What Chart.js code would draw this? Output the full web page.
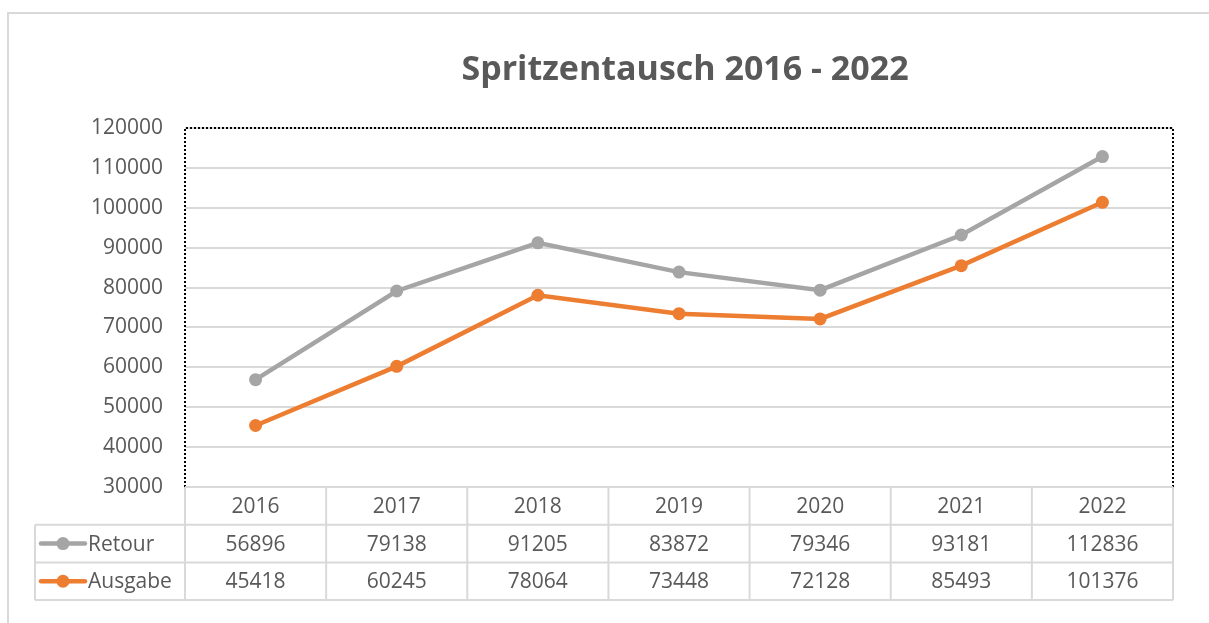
<!DOCTYPE html>
<html>
<head>
<meta charset="utf-8">
<script src="https://cdn.jsdelivr.net/npm/chart.js@4"></script>
<style>
  body { margin: 0; background: #ffffff; }
  #wrap { width: 1209px; height: 623px; }
</style>
</head>
<body>
<div id="wrap"><canvas id="chart" width="1209" height="623"></canvas></div>
<script>
// Chart data
const years = ['2016', '2017', '2018', '2019', '2020', '2021', '2022'];
const retour = [56896, 79138, 91205, 83872, 79346, 93181, 112836];
const ausgabe = [45418, 60245, 78064, 73448, 72128, 85493, 101376];
const seriesNames = ['Retour', 'Ausgabe'];
const seriesColors = ['#a5a5a5', '#ed7d31'];
const yMin = 30000;
const yMax = 120000;
const yStep = 10000;

const textColor = '#595959';
const lineGrey = '#d9d9d9';
const fontFamily = "'Open Sans', 'Noto Sans', sans-serif";

// Draws title, outer frame, dotted plot border and the data table
const excelDecor = {
    id: 'excelDecor',
    beforeDraw(chart) {
        const ctx = chart.ctx;
        ctx.save();
        ctx.strokeStyle = lineGrey;
        ctx.lineWidth = 2;
        ctx.beginPath();
        ctx.moveTo(8, 623);
        ctx.lineTo(8, 13);
        ctx.lineTo(1209, 13);
        ctx.stroke();
        ctx.restore();
    },
    afterDraw(chart) {
        const ctx = chart.ctx;
        const area = chart.chartArea;
        const x = chart.scales.x;

        ctx.save();

        // title
        ctx.fillStyle = textColor;
        ctx.font = "bold 34px " + fontFamily;
        ctx.textAlign = 'center';
        ctx.textBaseline = 'middle';
        ctx.fillText('Spritzentausch 2016 - 2022', 685, 70);

        // dotted plot border (top, left, right)
        ctx.strokeStyle = '#000000';
        ctx.lineWidth = 2;
        ctx.setLineDash([2, 2]);
        ctx.beginPath();
        ctx.moveTo(area.left, area.bottom);
        ctx.lineTo(area.left, area.top);
        ctx.lineTo(area.right, area.top);
        ctx.lineTo(area.right, area.bottom);
        ctx.stroke();
        ctx.setLineDash([]);

        // data table
        const centers = years.map((_, i) => x.getPixelForValue(i));
        const bounds = [area.left];
        for (let i = 0; i < centers.length - 1; i++) {
            bounds.push((centers[i] + centers[i + 1]) / 2);
        }
        bounds.push(area.right);

        const tableLeft = 35;
        const rowH = 37.7;
        const rows = [area.bottom, area.bottom + rowH, area.bottom + rowH * 2, area.bottom + rowH * 3];

        ctx.strokeStyle = lineGrey;
        ctx.lineWidth = 2;
        ctx.beginPath();
        ctx.moveTo(area.left, rows[0]);
        ctx.lineTo(area.right, rows[0]);
        for (let r = 1; r < rows.length; r++) {
            ctx.moveTo(tableLeft, rows[r]);
            ctx.lineTo(area.right, rows[r]);
        }
        bounds.forEach(b => {
            ctx.moveTo(b, rows[0]);
            ctx.lineTo(b, rows[3]);
        });
        ctx.moveTo(tableLeft, rows[1]);
        ctx.lineTo(tableLeft, rows[3]);
        ctx.stroke();

        ctx.fillStyle = textColor;
        ctx.font = "21px " + fontFamily;
        ctx.textAlign = 'center';
        ctx.textBaseline = 'middle';
        years.forEach((y, i) => {
            ctx.fillText(y, centers[i], (rows[0] + rows[1]) / 2 + 1);
        });

        const seriesData = [retour, ausgabe];
        seriesData.forEach((vals, s) => {
            const cy = (rows[s + 1] + rows[s + 2]) / 2 + 1;
            ctx.textAlign = 'center';
            ctx.fillStyle = textColor;
            vals.forEach((v, i) => {
                ctx.fillText(String(v), centers[i], cy);
            });
            // legend key
            ctx.strokeStyle = seriesColors[s];
            ctx.lineWidth = 4.5;
            ctx.lineCap = 'round';
            ctx.beginPath();
            ctx.moveTo(41, cy - 1);
            ctx.lineTo(85, cy - 1);
            ctx.stroke();
            ctx.fillStyle = seriesColors[s];
            ctx.beginPath();
            ctx.arc(63, cy - 1, 6.5, 0, Math.PI * 2);
            ctx.fill();
            ctx.fillStyle = textColor;
            ctx.textAlign = 'left';
            ctx.fillText(seriesNames[s], 88, cy);
        });

        ctx.restore();
    }
};

new Chart(document.getElementById('chart').getContext('2d'), {
    type: 'line',
    data: {
        labels: years,
        datasets: [{
            label: seriesNames[0],
            data: retour,
            borderColor: seriesColors[0],
            backgroundColor: seriesColors[0],
            borderWidth: 4.5,
            pointRadius: 6.5,
            pointBorderWidth: 0,
            pointBackgroundColor: seriesColors[0],
            tension: 0
        }, {
            label: seriesNames[1],
            data: ausgabe,
            borderColor: seriesColors[1],
            backgroundColor: seriesColors[1],
            borderWidth: 4.5,
            pointRadius: 6.5,
            pointBorderWidth: 0,
            pointBackgroundColor: seriesColors[1],
            tension: 0
        }]
    },
    options: {
        responsive: false,
        devicePixelRatio: 1,
        animation: false,
        layout: {
            padding: { top: 128, bottom: 136, left: 0, right: 36 }
        },
        plugins: {
            legend: { display: false },
            title: { display: false },
            tooltip: { enabled: false }
        },
        scales: {
            x: {
                display: false,
                offset: true
            },
            y: {
                min: yMin,
                max: yMax,
                afterFit: function(scale) {
                    scale.width = 185;
                },
                ticks: {
                    stepSize: yStep,
                    color: textColor,
                    padding: 22,
                    font: { family: fontFamily, size: 21 },
                    callback: function(value) {
                        return String(value);
                    }
                },
                grid: {
                    color: lineGrey,
                    lineWidth: 2,
                    drawTicks: false
                },
                border: { display: false }
            }
        }
    },
    plugins: [excelDecor]
});
</script>
</body>
</html>
